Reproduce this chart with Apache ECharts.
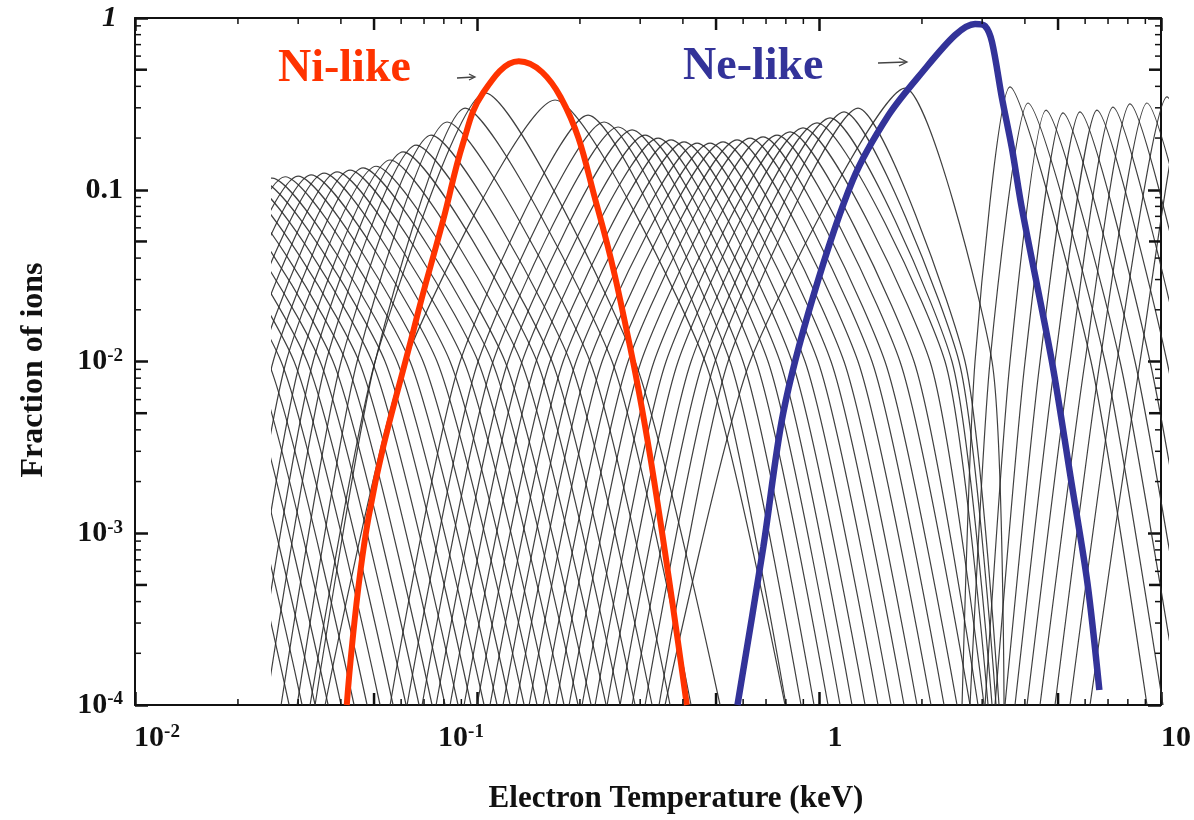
<!DOCTYPE html>
<html>
<head>
<meta charset="utf-8">
<title>Fraction of ions vs electron temperature</title>
<script src="https://cdn.jsdelivr.net/npm/echarts@6/dist/echarts.min.js"></script>
<style>
  html, body { margin: 0; padding: 0; background: #fff; }
  #chart { width: 1194px; height: 820px; }
</style>
</head>
<body>
<div id="chart"></div>
<script>
var MID = 1e-2, FOOT = 1e-4;

// thin curves, one entry per ion stage (keV / fraction of ions)
// peak position and height
var thinPeakT = [
  // stages peaking below the first computed temperature
  0.006783, 0.0074, 0.008072, 0.008806, 0.009606, 0.01048, 0.01143, 0.01247, 0.0136, 0.01484,
  0.01619, 0.01766, 0.01927, 0.02102, 0.02293,
  // up to Ni-like
  0.02502, 0.02729, 0.02977, 0.03248, 0.03543, 0.03865, 0.04216, 0.046, 0.05018, 0.05512,
  0.06013, 0.06559, 0.07252, 0.08072, 0.09107, 0.1041,
  // Co-like ... Ne-like
  0.1663, 0.2074, 0.2309, 0.2536, 0.2785, 0.3038, 0.3314, 0.3615, 0.3944, 0.4303,
  0.4694, 0.512, 0.5624, 0.6135, 0.6693, 0.735, 0.8018, 0.8747, 0.9606, 1.048,
  1.151, 1.264, 1.731,
  // F-like and beyond
  3.496, 3.944, 4.449, 4.985, 5.586, 6.259, 6.967, 7.806, 8.747, 10.0, 11.67
];
var thinPeakF = [
  0.114, 0.114, 0.114, 0.114, 0.114, 0.114, 0.114, 0.114, 0.114, 0.114,
  0.114, 0.114, 0.114, 0.114, 0.114,
  0.117, 0.119, 0.120, 0.122, 0.125, 0.127, 0.130, 0.134, 0.137, 0.149,
  0.166, 0.182, 0.208, 0.248, 0.299, 0.366,
  0.333, 0.272, 0.248, 0.232, 0.223, 0.208, 0.200, 0.195, 0.190, 0.187,
  0.187, 0.190, 0.195, 0.200, 0.203, 0.208, 0.217, 0.229, 0.245, 0.262,
  0.284, 0.299, 0.391,
  0.397, 0.320, 0.291, 0.280, 0.284, 0.291, 0.303, 0.316, 0.320, 0.347, 0.436
];
// temperature where each curve is at 1e-4 / 1e-2 on its low-T side
var thinLeftFootT = [
  0.001641, 0.00179, 0.001953, 0.00213, 0.002324, 0.002535, 0.002766, 0.003017, 0.003291, 0.00359,
  0.003917, 0.004273, 0.004661, 0.005085, 0.005547,
  0.009167, 0.01, 0.01091, 0.0119, 0.01298, 0.01416, 0.01545, 0.01686, 0.01839, 0.0202,
  0.02203, 0.02403, 0.02657, 0.02958, 0.03336, 0.03226,
  0.03567, 0.05512, 0.06176, 0.06828, 0.07499, 0.08236, 0.09045, 0.09867, 0.1076, 0.1174,
  0.1281, 0.1398, 0.1535, 0.1674, 0.1827, 0.1993, 0.2174, 0.2356, 0.257, 0.2785,
  0.3038, 0.3336, 0.3473,
  2.536, 2.675, 2.958, 3.162, 3.381, 3.615, 3.918, 4.274, 4.725, 5.224, 5.973
];
var thinLeftMidT = [
  0.002918, 0.003183, 0.003473, 0.003788, 0.004133, 0.004508, 0.004918, 0.005365, 0.005853, 0.006385,
  0.006965, 0.007598, 0.008289, 0.009043, 0.009865,
  0.0137, 0.01494, 0.0163, 0.01778, 0.0194, 0.02117, 0.02309, 0.02519, 0.02748, 0.03018,
  0.03292, 0.03591, 0.0397, 0.04419, 0.04985, 0.04985,
  0.06094, 0.08806, 0.09934, 0.1098, 0.1214, 0.1334, 0.1465, 0.1608, 0.1755, 0.1914,
  0.2088, 0.2278, 0.2502, 0.2711, 0.2958, 0.3226, 0.3496, 0.3789, 0.4133, 0.4479,
  0.4854, 0.5295, 0.6135,
  2.766, 3.058, 3.496, 3.866, 4.274, 4.725, 5.224, 5.776, 6.386, 7.156, 8.347
];
// temperature where each curve is at 1e-2 / 1e-4 on its high-T side
var thinRightMidT = [
  0.01576, 0.0172, 0.01876, 0.02047, 0.02233, 0.02436, 0.02657, 0.02899, 0.03162, 0.0345,
  0.03763, 0.04105, 0.04478, 0.04885, 0.05329,
  0.05776, 0.06301, 0.06874, 0.07549, 0.08236, 0.09045, 0.09933, 0.1091, 0.119, 0.1325,
  0.1474, 0.163, 0.1839, 0.2102, 0.2436, 0.2841,
  0.4539, 0.4886, 0.5366, 0.5854, 0.6386, 0.692, 0.7499, 0.8126, 0.8865, 0.9671,
  1.055, 1.151, 1.264, 1.388, 1.514, 1.674, 1.839, 2.047, 2.263, 2.371,
  2.485, 2.587, 3.1,
  6.013, 6.603, 7.301, 8.072, 8.925, 10.0, 11.13, 12.47, 13.98, 15.77, 18.64
];
var thinRightFootT = [
  0.02804, 0.03058, 0.03336, 0.0364, 0.0397, 0.04331, 0.04725, 0.05154, 0.05623, 0.06134,
  0.06691, 0.073, 0.07963, 0.08687, 0.09477,
  0.1034, 0.1128, 0.1231, 0.1352, 0.1474, 0.1608, 0.1766, 0.194, 0.2117, 0.234,
  0.257, 0.2841, 0.3184, 0.3591, 0.4133, 0.5019,
  0.7754, 0.7806, 0.8631, 0.9415, 1.034, 1.121, 1.214, 1.325, 1.445, 1.577,
  1.72, 1.876, 2.06, 2.248, 2.452, 2.675, 2.822, 2.938, 3.018, 3.1,
  3.184, 3.248, 3.359,
  8.747, 9.736, 10.91, 12.06, 13.34, 14.94, 16.63, 18.64, 20.88, 23.56, 27.85
];
// lowest temperature of the calculation (curves start here)
var firstT = 0.025;

// highlighted Ni-like curve
var niT = [0.04161, 0.04821, 0.06603, 0.07965, 0.09106, 0.1041, 0.1325, 0.1755, 0.2248, 0.2803, 0.3292, 0.4106];
var niF = [1e-4, 1.243e-3, 0.01676, 0.06665, 0.1872, 0.366, 0.56, 0.3468, 0.07934, 0.01215, 2.042e-3, 1e-4];
// highlighted Ne-like curve
var neT = [0.5776, 0.6874, 0.7859, 0.9606, 1.256, 1.598, 2.006, 2.502, 2.86, 3.058, 3.205, 3.427, 3.664, 3.918, 4.789, 5.475, 6.094, 6.603];
var neF = [1e-4, 8.316e-4, 5.013e-3, 0.02374, 0.1139, 0.2723, 0.485, 0.7962, 0.9227, 0.8983, 0.7247, 0.3422, 0.175, 0.07827, 0.0102, 1.962e-3, 5.133e-4, 1.223e-4];

// axis ticks
var xDecades = [0.01, 0.1, 1];
var yDecades = [1e-4, 1e-3, 1e-2, 0.1];
var minorSteps = [2, 3, 4, 5, 6, 7, 8, 9];

var chart = echarts.init(document.getElementById('chart'));

var SERIF = 'Liberation Serif';
var base = {fontFamily: SERIF, fontWeight: 'bold', fontSize: 30, color: '#111'};
function st(extra) { return Object.assign({}, base, extra); }
var sup = {fontFamily: SERIF, fontWeight: 'bold', fontSize: 19, color: '#111', verticalAlign: 'top'};

var tickData = [];
xDecades.forEach(function (d) {
  minorSteps.forEach(function (m) { tickData.push([d * m, 0.01, 0, m]); });
});
yDecades.forEach(function (d) {
  minorSteps.forEach(function (m) { tickData.push([1, d * m, 1, m]); });
});

var series = thinPeakT.map(function (tp, i) {
  return {
    type: 'line',
    xAxisIndex: 2,
    yAxisIndex: 2,
    smooth: 0.2,
    symbol: 'none',
    silent: true,
    z: 2,
    lineStyle: {color: '#2b2b2b', width: 1.2, opacity: 0.9},
    data: [
      [thinLeftFootT[i], FOOT],
      [thinLeftMidT[i], MID],
      [tp, thinPeakF[i]],
      [thinRightMidT[i], MID],
      [thinRightFootT[i], FOOT]
    ]
  };
});

series.push({
  type: 'line', name: 'Ni-like', xAxisIndex: 0, yAxisIndex: 0,
  smooth: 0.4, symbol: 'none', z: 5,
  lineStyle: {color: '#ff3300', width: 6},
  data: niT.map(function (t, i) { return [t, niF[i]]; })
});
series.push({
  type: 'line', name: 'Ne-like', xAxisIndex: 0, yAxisIndex: 0,
  smooth: 0.3, symbol: 'none', z: 5,
  lineStyle: {color: '#333399', width: 6.5},
  data: neT.map(function (t, i) { return [t, neF[i]]; })
});

// minor ticks on all four sides of the frame
series.push({
  type: 'custom', xAxisIndex: 0, yAxisIndex: 0, clip: false, silent: true, z: 6,
  encode: {x: 0, y: 1},
  data: tickData,
  renderItem: function (params, api) {
    var v = api.value(0), w = api.value(1), kind = api.value(2), m = api.value(3);
    var len = m === 5 ? 12 : 6;
    var lw = m === 5 ? 2.5 : 1.5;
    var s = {stroke: '#111', lineWidth: lw};
    if (kind === 0) {
      var b = api.coord([v, 1e-4]), t = api.coord([v, 1]);
      return {type: 'group', children: [
        {type: 'line', shape: {x1: b[0], y1: b[1], x2: b[0], y2: b[1] - len}, style: s},
        {type: 'line', shape: {x1: t[0], y1: t[1], x2: t[0], y2: t[1] + len}, style: s}
      ]};
    }
    var l = api.coord([0.01, w]), r = api.coord([10, w]);
    return {type: 'group', children: [
      {type: 'line', shape: {x1: l[0], y1: l[1], x2: l[0] + len, y2: l[1]}, style: s},
      {type: 'line', shape: {x1: r[0], y1: r[1], x2: r[0] - len, y2: r[1]}, style: s}
    ]};
  }
});

var frameLine = {show: true, onZero: false, lineStyle: {color: '#111', width: 2}};
var majorTick = {show: true, inside: true, length: 13, lineStyle: {color: '#111', width: 2.5}};

var option = {
  animation: false,
  backgroundColor: '#ffffff',
  grid: [
    {left: 135, right: 27, top: 18, bottom: 115},
    {left: 272, right: 27, top: 18, bottom: 115}
  ],
  xAxis: [
    {
      type: 'log', logBase: 10, min: 0.01, max: 10, gridIndex: 0, position: 'bottom',
      axisLine: frameLine, axisTick: majorTick, splitLine: {show: false},
      name: 'Electron Temperature (keV)', nameLocation: 'middle', nameGap: 78,
      nameTextStyle: {fontFamily: SERIF, fontWeight: 'bold', fontSize: 31, color: '#111', padding: [0, 0, 0, 56]},
      axisLabel: {
        margin: 18,
        formatter: function (v) {
          var e = Math.round(Math.log10(v));
          if (e === -2) return '{a|10}{s|-2}';
          if (e === -1) return '{n|10}{e|-1}';
          if (e === 0) return '{c|1}';
          return '{d|10}';
        },
        rich: {
          a: st({padding: [0, 0, 0, 44]}),
          n: st({}),
          c: st({padding: [0, 0, 0, 32]}),
          d: st({padding: [0, 0, 0, 30]}),
          s: sup,
          e: Object.assign({}, sup, {padding: [0, 32, 0, 0]})
        }
      }
    },
    {
      type: 'log', logBase: 10, min: 0.01, max: 10, gridIndex: 0, position: 'top',
      axisLine: frameLine, axisTick: majorTick, axisLabel: {show: false}, splitLine: {show: false}
    },
    {type: 'log', logBase: 10, min: firstT, max: 10, gridIndex: 1, show: false, splitLine: {show: false}}
  ],
  yAxis: [
    {
      type: 'log', logBase: 10, min: 1e-4, max: 1, gridIndex: 0, position: 'left',
      axisLine: frameLine, axisTick: majorTick, splitLine: {show: false},
      name: 'Fraction of ions', nameLocation: 'middle', nameGap: 85, nameRotate: 90,
      nameTextStyle: {fontFamily: SERIF, fontWeight: 'bold', fontSize: 32, color: '#111', padding: [0, 17, 0, 0]},
      axisLabel: {
        margin: 12,
        formatter: function (v) {
          var e = Math.round(Math.log10(v));
          if (e === 0) return '{i|1}';
          if (e === -1) return '{n|0.1}';
          return '{n|10}{s|' + e + '}';
        },
        rich: {
          i: st({fontStyle: 'italic', padding: [0, 6, 0, 0]}),
          n: st({}),
          s: sup
        }
      }
    },
    {
      type: 'log', logBase: 10, min: 1e-4, max: 1, gridIndex: 0, position: 'right',
      axisLine: frameLine, axisTick: majorTick, axisLabel: {show: false}, splitLine: {show: false}
    },
    {type: 'log', logBase: 10, min: 1e-4, max: 1, gridIndex: 1, show: false, splitLine: {show: false}}
  ],
  graphic: [
    {type: 'text', left: 278, top: 46, z: 10,
      style: {text: 'Ni-like', fill: '#ff3300', font: 'bold 46px "Liberation Serif"'}},
    {type: 'text', left: 683, top: 44, z: 10,
      style: {text: 'Ne-like', fill: '#333399', font: 'bold 46px "Liberation Serif"'}},
    {type: 'polyline', z: 10, shape: {points: [[457, 78], [474, 77]]}, style: {stroke: '#444', lineWidth: 1.3}},
    {type: 'polyline', z: 10, shape: {points: [[469, 74], [475, 77], [469, 80]]}, style: {stroke: '#444', lineWidth: 1.3, fill: null}},
    {type: 'polyline', z: 10, shape: {points: [[878, 63], [906, 62]]}, style: {stroke: '#444', lineWidth: 1.3}},
    {type: 'polyline', z: 10, shape: {points: [[899, 58], [907, 62], [899, 66]]}, style: {stroke: '#444', lineWidth: 1.3, fill: null}}
  ],
  series: series
};

chart.setOption(option);
</script>
</body>
</html>
